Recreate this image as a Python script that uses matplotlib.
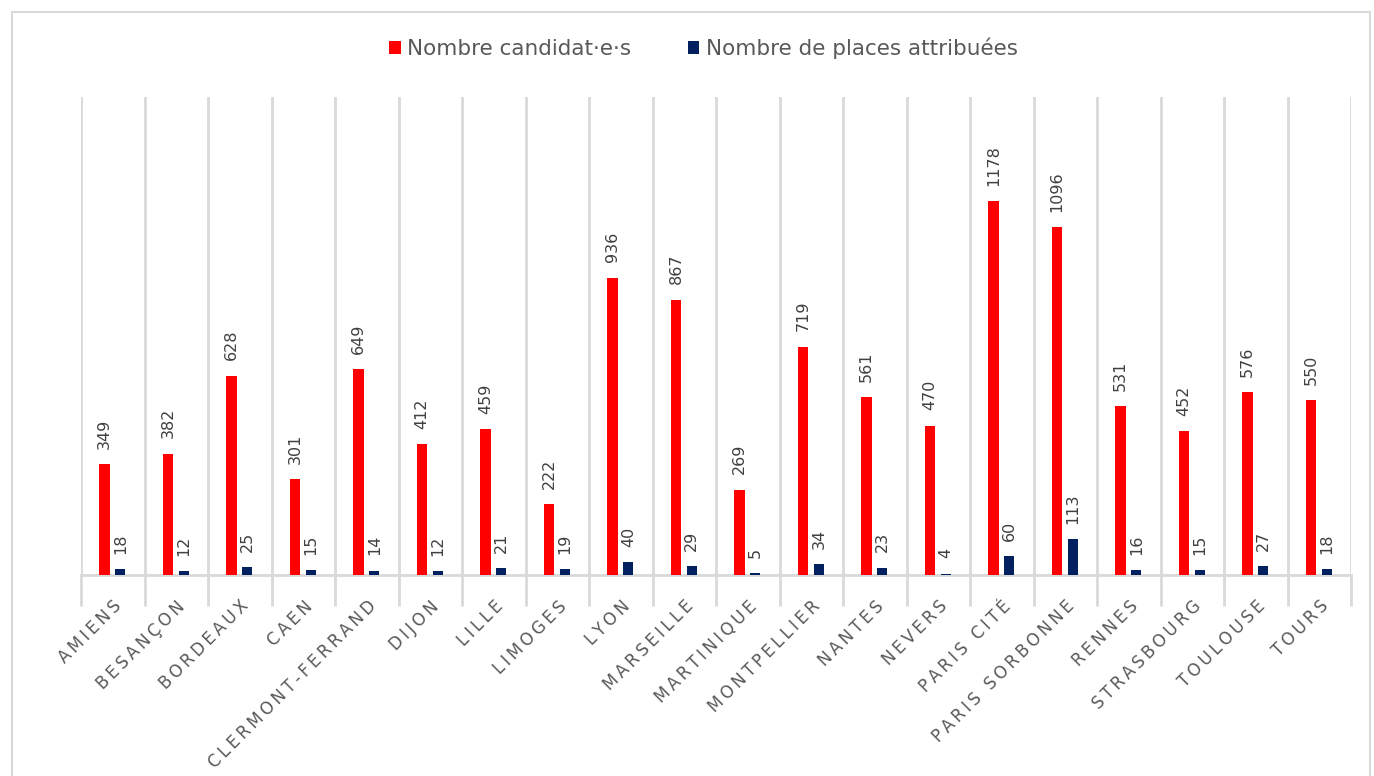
import matplotlib.pyplot as plt
import numpy as np
from matplotlib.patches import Rectangle

villes = ['AMIENS', 'BESANÇON', 'BORDEAUX', 'CAEN', 'CLERMONT-FERRAND', 'DIJON', 'LILLE',
          'LIMOGES', 'LYON', 'MARSEILLE', 'MARTINIQUE', 'MONTPELLIER', 'NANTES', 'NEVERS',
          'PARIS CITÉ', 'PARIS SORBONNE', 'RENNES', 'STRASBOURG', 'TOULOUSE', 'TOURS']
candidats = [349, 382, 628, 301, 649, 412, 459, 222, 936, 867, 269, 719, 561, 470,
             1178, 1096, 531, 452, 576, 550]
places = [18, 12, 25, 15, 14, 12, 21, 19, 40, 29, 5, 34, 23, 4, 60, 113, 16, 15, 27, 18]

rouge = '#ff0000'
marine = '#002060'
gris_grille = '#d9d9d9'
gris_texte = '#595959'

fig = plt.figure(figsize=(13.74, 7.76), dpi=100)
# cadre du graphique
fig.patches.append(Rectangle((12 / 1374, -0.01), 1358 / 1374, 1 - 12 / 776 + 0.01,
                             transform=fig.transFigure, fill=False,
                             edgecolor=gris_grille, linewidth=1.5))

ax = fig.add_axes([81 / 1374, 1 - 575 / 776, 1270 / 1374, 478 / 776])
x = np.arange(len(villes))
w = 0.16
b1 = ax.bar(x - 0.13, candidats, w, color=rouge, label='Nombre candidat·e·s', zorder=3)
b2 = ax.bar(x + 0.12, places, w, color=marine, label='Nombre de places attribuées', zorder=3)

for rects, vals in [(b1, candidats), (b2, places)]:
    for r, v in zip(rects, vals):
        ax.annotate(str(v), (r.get_x() + r.get_width() / 2, r.get_height()),
                    xytext=(0, 11), textcoords='offset points', rotation=90,
                    ha='center', va='bottom', fontsize=11.5, color='#404040')

ax.set_xlim(-0.5, len(villes) - 0.5)
ax.set_ylim(0, 1505)
ax.set_yticks([])

# grille verticale entre les catégories, prolongée sous l'axe
ax.set_xticks(np.arange(len(villes) + 1) - 0.5)
ax.set_xticklabels([])
ax.tick_params(axis='x', which='major', length=22, width=2, color=gris_grille)
ax.set_xticks(x, minor=True)
ax.set_xticklabels(['\u2009'.join(v) for v in villes], minor=True, rotation=45,
                   ha='right', va='top', rotation_mode='anchor', fontsize=12,
                   color=gris_texte)
ax.tick_params(axis='x', which='minor', length=0, pad=16)
for xv in np.arange(len(villes) + 1) - 0.5:
    ax.axvline(xv, color=gris_grille, linewidth=2, zorder=1)

for s in ['top', 'left', 'right']:
    ax.spines[s].set_visible(False)
ax.spines['bottom'].set_color(gris_grille)
ax.spines['bottom'].set_linewidth(2)

leg = fig.legend(loc='center', bbox_to_anchor=(0.512, 1 - 48 / 776), ncol=2, frameon=False,
                 fontsize=15.5, handlelength=0.55, handleheight=0.55, handletextpad=0.3,
                 columnspacing=2.6)
for t in leg.get_texts():
    t.set_color(gris_texte)

plt.savefig('out.png', dpi=100)
